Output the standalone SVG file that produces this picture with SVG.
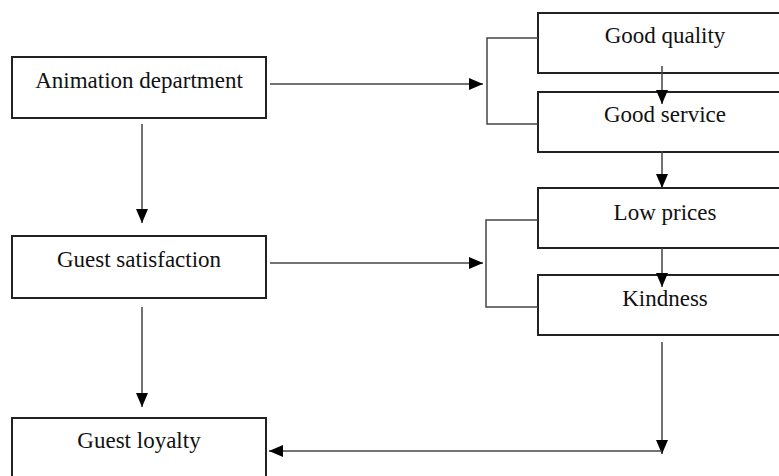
<svg xmlns="http://www.w3.org/2000/svg" width="779" height="476" viewBox="0 0 779 476">
<style>
.box{fill:#fff;stroke:#222;stroke-width:2}
.lbl{font-size:23px;fill:#111;text-anchor:middle}
.ln{fill:none;stroke:#444;stroke-width:1.5}
</style>
<defs>
<marker id="ah" markerWidth="14" markerHeight="12" refX="14" refY="6" orient="auto" markerUnits="userSpaceOnUse">
<path d="M0,0 L14,6 L0,12 Z" fill="#000"/>
</marker>
</defs>
<rect width="779" height="476" fill="#fff"/>
<g font-family="Liberation Serif, Times New Roman, DejaVu Serif, serif">
<g id="animation"><rect class="box" x="12" y="57" width="254" height="61"/><text class="lbl" x="139" y="88">Animation department</text></g>
<g id="satisfaction"><rect class="box" x="12" y="236" width="254" height="62"/><text class="lbl" x="139" y="267">Guest satisfaction</text></g>
<g id="loyalty"><rect class="box" x="12" y="418" width="254" height="64"/><text class="lbl" x="139" y="448">Guest loyalty</text></g>
<g id="quality"><rect class="box" x="538" y="13" width="254" height="60"/><text class="lbl" x="665" y="43">Good quality</text></g>
<g id="service"><rect class="box" x="538" y="92" width="254" height="60"/><text class="lbl" x="665" y="122">Good service</text></g>
<g id="prices"><rect class="box" x="538" y="188" width="254" height="60"/><text class="lbl" x="665" y="220">Low prices</text></g>
<g id="kindness"><rect class="box" x="538" y="275" width="254" height="60"/><text class="lbl" x="665" y="306">Kindness</text></g>
</g>
<g id="connectors">
<path class="ln" d="M142,124 V223" marker-end="url(#ah)"/>
<path class="ln" d="M142,307 V407" marker-end="url(#ah)"/>
<path class="ln" d="M270,84 H483" marker-end="url(#ah)"/>
<path class="ln" d="M270,263 H483" marker-end="url(#ah)"/>
<path class="ln" d="M538,38 H487 V124 H538"/>
<path class="ln" d="M538,220 H486 V307 H538"/>
<path class="ln" d="M662,66 V104" marker-end="url(#ah)"/>
<path class="ln" d="M662,151 V188" marker-end="url(#ah)"/>
<path class="ln" d="M662,248 V287" marker-end="url(#ah)"/>
<path class="ln" d="M662,342 V454" marker-end="url(#ah)"/>
<path class="ln" d="M662,451 H269" marker-end="url(#ah)"/>
</g>
</svg>
